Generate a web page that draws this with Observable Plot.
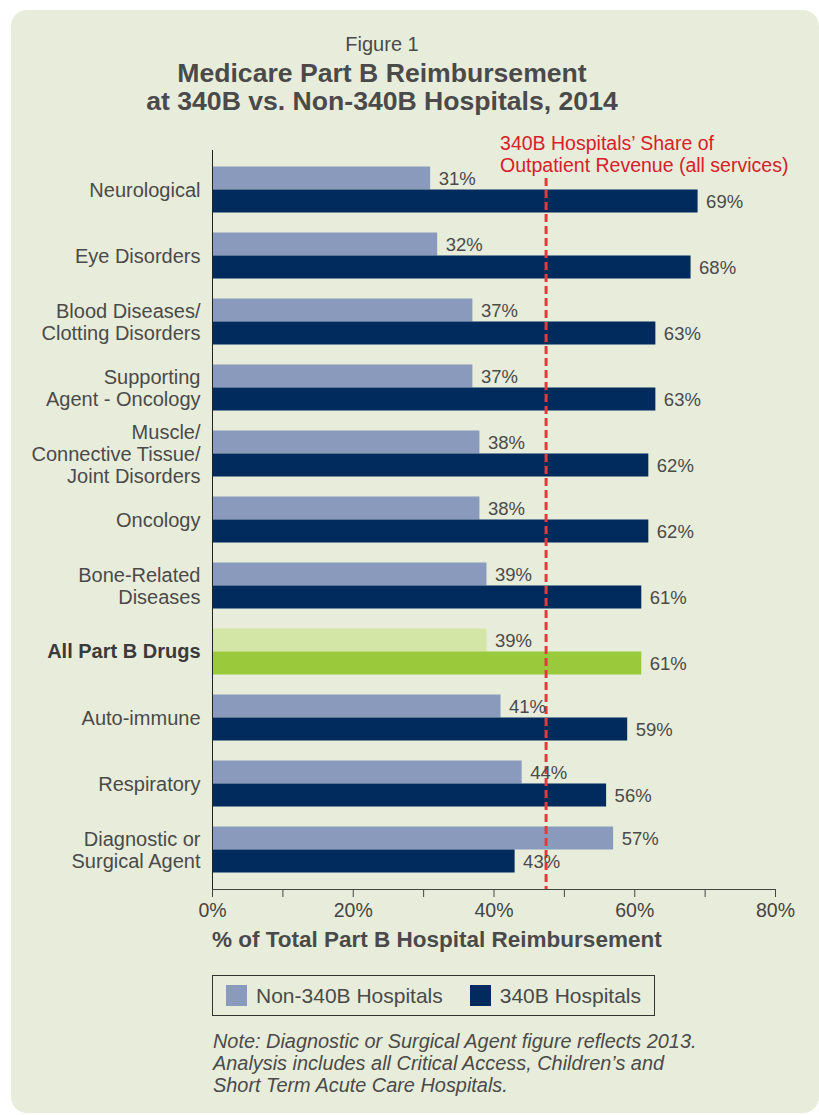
<!DOCTYPE html>
<html>
<head>
<meta charset="utf-8">
<script src="https://cdn.jsdelivr.net/npm/d3@7"></script>
<script src="https://cdn.jsdelivr.net/npm/@observablehq/plot@0.6"></script>
<style>
  html, body { margin: 0; padding: 0; background: #ffffff; }
  body { width: 819px; height: 1115px; position: relative; overflow: hidden; font-family: "Liberation Sans", Arial, sans-serif; color: #4a4a4a; }
  #panel { position: absolute; left: 11px; top: 10px; width: 808px; height: 1103px; background: #e8eddb; border-radius: 16px; }
  #titles { position: absolute; left: 0; top: 32px; width: 764px; text-align: center; }
  #fig { font-size: 20px; line-height: 25px; }
  #title { font-size: 26.6px; font-weight: bold; line-height: 28px; margin-top: 2px; }
  #chart { position: absolute; left: 0; top: 120px; }
  #xtitle { position: absolute; left: 212px; top: 927px; font-size: 22.5px; font-weight: bold; }
  #legend { position: absolute; left: 212px; top: 975px; width: 441px; height: 39px; border: 1.5px solid #333; display: flex; align-items: center; font-size: 21px; }
  .sw { display: inline-block; width: 21px; height: 21px; margin-right: 9px; }
  .item { display: flex; align-items: center; }
  #note { position: absolute; left: 213px; top: 1030px; font-size: 19.9px; font-style: italic; line-height: 22px; }
</style>
</head>
<body>
<div id="panel"></div>
<div id="titles">
  <div id="fig">Figure 1</div>
  <div id="title">Medicare Part B Reimbursement<br>at 340B vs. Non-340B Hospitals, 2014</div>
</div>
<div id="chart"></div>
<div id="xtitle">% of Total Part B Hospital Reimbursement</div>
<div id="legend">
  <span class="item" style="margin-left:13px"><span class="sw" style="background:#8a9abd"></span>Non-340B Hospitals</span>
  <span class="item" style="margin-left:27px"><span class="sw" style="background:#002b5c"></span>340B Hospitals</span>
</div>
<div id="note">Note: Diagnostic or Surgical Agent figure reflects 2013.<br>Analysis includes all Critical Access, Children’s and<br>Short Term Acute Care Hospitals.</div>
<script>
const categories = [
  "Neurological",
  "Eye Disorders",
  "Blood Diseases/\nClotting Disorders",
  "Supporting\nAgent - Oncology",
  "Muscle/\nConnective Tissue/\nJoint Disorders",
  "Oncology",
  "Bone-Related\nDiseases",
  "All Part B Drugs",
  "Auto-immune",
  "Respiratory",
  "Diagnostic or\nSurgical Agent"
];
const non340B = [31, 32, 37, 37, 38, 38, 39, 39, 41, 44, 57];
const hosp340B = [69, 68, 63, 63, 62, 62, 61, 61, 59, 56, 43];
const highlight = "All Part B Drugs";
const outpatientShare = 47.4;
const annotation = "340B Hospitals’ Share of\nOutpatient Revenue (all services)";
const xTicks = [0, 10, 20, 30, 40, 50, 60, 70, 80];

const rows = categories.map((c, i) => ({category: c, non: non340B[i], b340: hosp340B[i]}));
const lightFill = d => d.category === highlight ? "#d3e6a5" : "#8a9abd";
const darkFill = d => d.category === highlight ? "#9aca3c" : "#002b5c";

const chart = Plot.plot({
  width: 819,
  height: 810,
  marginLeft: 212,
  marginRight: 44,
  marginTop: 30,
  marginBottom: 41,
  style: {background: "transparent", fontFamily: "Liberation Sans, Arial, sans-serif", fontSize: "19.5px", color: "#444"},
  x: {domain: [0, 80], ticks: xTicks, tickSize: 8, tickPadding: 6, tickFormat: d => d % 20 === 0 ? `${d}%` : "", label: null, line: true},
  y: {domain: categories, axis: null, paddingInner: 0.303, paddingOuter: 0.25, round: false},
  color: {type: "identity"},
  marks: [
    Plot.barX(rows, {y: "category", x: "non", fill: lightFill, insetBottom: 23}),
    Plot.barX(rows, {y: "category", x: "b340", fill: darkFill, insetTop: 23}),
    Plot.ruleX([0], {stroke: "#222"}),
    Plot.ruleX([outpatientShare], {stroke: "#e8383d", strokeWidth: 3, strokeDasharray: "8,4", insetTop: 28}),
    Plot.text(rows, {y: "category", x: "non", text: d => `${d.non}%`, dx: 8, dy: -11, textAnchor: "start", fill: "#4a4a4a", fontSize: 18.5}),
    Plot.text(rows, {y: "category", x: "b340", text: d => `${d.b340}%`, dx: 8, dy: 12, textAnchor: "start", fill: "#4a4a4a", fontSize: 18.5}),
    Plot.text(categories.filter(c => c !== highlight), {y: d => d, text: d => d, frameAnchor: "left", dx: -12, textAnchor: "end", lineHeight: 1.1, fill: "#4a4a4a", fontSize: 20}),
    Plot.text(categories.filter(c => c === highlight), {y: d => d, text: d => d, frameAnchor: "left", dx: -12, textAnchor: "end", fill: "#3a3a3a", fontSize: 20, fontWeight: "bold"}),
    Plot.text([annotation], {x: outpatientShare, text: d => d, frameAnchor: "top", textAnchor: "start", lineAnchor: "top", dx: -46, dy: -15, lineHeight: 1.08, fill: "#d7202b", fontSize: 19.5})
  ]
});
document.getElementById("chart").appendChild(chart);
</script>
</body>
</html>
